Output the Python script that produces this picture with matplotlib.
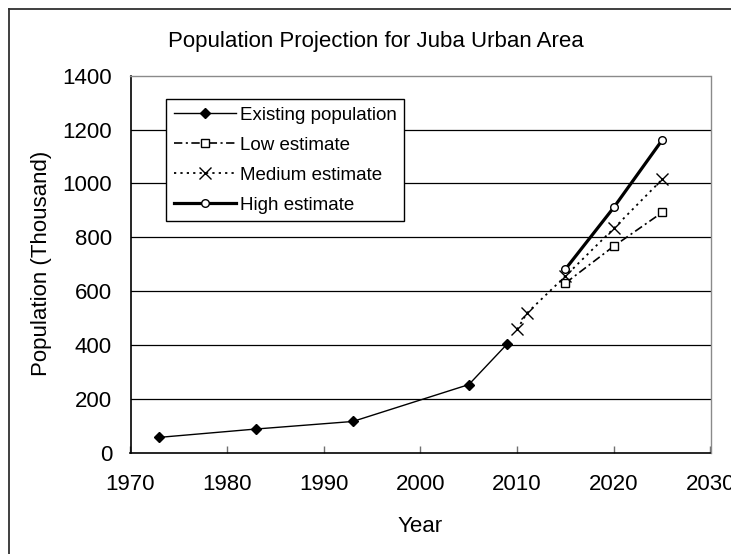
import matplotlib
matplotlib.use("Agg")
import matplotlib.pyplot as plt
from matplotlib.lines import Line2D

plt.rcParams['font.family'] = ['Liberation Sans', 'DejaVu Sans']
plt.rcParams['lines.scale_dashes'] = False

# Observed population (thousand)
existing_years = [1973, 1983, 1993, 2005, 2009]
existing_pop = [57, 88, 116, 253, 405]

# Projection scenarios (thousand)
low_years = [2015, 2020, 2025]
low_pop = [630, 767, 892]

medium_years = [2010, 2011, 2015, 2020, 2025]
medium_pop = [458, 518, 656, 833, 1015]

high_years = [2015, 2020, 2025]
high_pop = [682, 911, 1161]

x_ticks = [1970, 1980, 1990, 2000, 2010, 2020, 2030]
y_ticks = [0, 200, 400, 600, 800, 1000, 1200, 1400]

W, H = 731, 554
fig = plt.figure(figsize=(W / 100, H / 100), dpi=100)
ax = fig.add_axes([130.5 / W, 1 - 452.7 / H, 580 / W, 377 / H])

ax.plot(existing_years, existing_pop, color='black', lw=1.0, marker='D',
        ms=5.5, mfc='black', mec='black', label='Existing population', zorder=3)
ax.plot(low_years, low_pop, color='black', lw=1.2, dashes=(6, 2.5, 1.5, 2.5),
        marker='s', ms=6, mfc='white', mec='black', mew=1.0,
        label='Low estimate', zorder=4)
ax.plot(medium_years, medium_pop, color='black', lw=1.3, dashes=(1.6, 3.0),
        marker='x', ms=8.5, mec='black', mew=1.0,
        label='Medium estimate', zorder=5)
ax.plot(high_years, high_pop, color='black', lw=2.3, marker='o', ms=5.5,
        mfc='white', mec='black', mew=1.0, label='High estimate', zorder=6)

ax.set_xlim(1970, 2030)
ax.set_ylim(0, 1400)
ax.set_xticks(x_ticks)
ax.set_yticks(y_ticks)
ax.set_xticklabels([str(v) for v in x_ticks])
ax.set_yticklabels([str(v) for v in y_ticks])

for y in y_ticks[1:-1]:
    ax.axhline(y, color='black', lw=0.9, zorder=1)

ax.tick_params(axis='x', direction='in', length=5, width=1, color='#707070',
               labelsize=16, pad=15.4, top=False)
ax.tick_params(axis='y', length=0, labelsize=16, pad=13.3)

ax.spines['left'].set_color('black')
ax.spines['bottom'].set_color('black')
ax.spines['left'].set_linewidth(1.2)
ax.spines['bottom'].set_linewidth(1.2)
ax.spines['top'].set_color('#8a8a8a')
ax.spines['right'].set_color('#8a8a8a')
ax.spines['top'].set_linewidth(1.0)
ax.spines['right'].set_linewidth(1.0)

leg = ax.legend(loc='upper left', bbox_to_anchor=(166.4 / W, 1 - 99.3 / H),
                bbox_transform=fig.transFigure, borderaxespad=0,
                fontsize=13.5, handlelength=3.3, handletextpad=0.2,
                labelspacing=0.68, borderpad=0.4, numpoints=1,
                fancybox=False, framealpha=1, edgecolor='black')
leg.get_frame().set_linewidth(1.0)

fig.text(375.5 / W, 1 - 46.7 / H, 'Population Projection for Juba Urban Area',
         ha='center', va='baseline', fontsize=16)
fig.text(419.6 / W, 1 - 531.7 / H, 'Year', ha='center', va='baseline',
         fontsize=16)
fig.text(41.5 / W, 1 - 263 / H, 'Population (Thousand)', ha='center',
         va='center', rotation=90, fontsize=16)

# Chart-area frame (left and top edges visible)
fig.add_artist(Line2D([8.5 / W, 8.5 / W], [1 - 9 / H, -0.05], color='#303030',
                      lw=1.3, transform=fig.transFigure, clip_on=False))
fig.add_artist(Line2D([8.5 / W, 1.05], [1 - 9 / H, 1 - 9 / H], color='#303030',
                      lw=1.3, transform=fig.transFigure, clip_on=False))

fig.savefig('out.png', dpi=100)
